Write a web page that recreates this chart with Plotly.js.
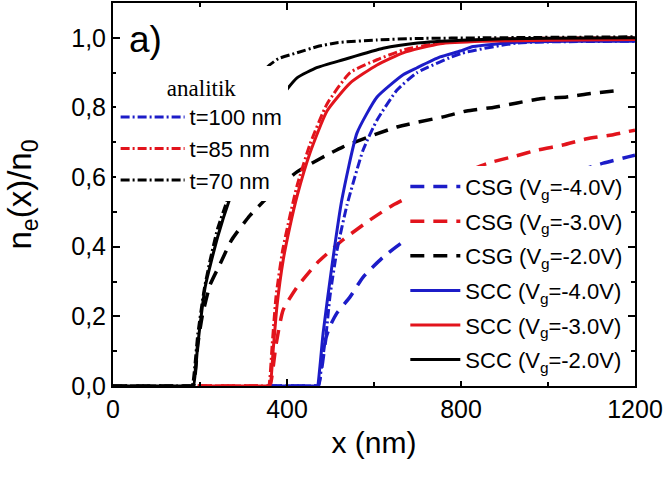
<!DOCTYPE html>
<html>
<head>
<meta charset="utf-8">
<script src="https://cdn.plot.ly/plotly-3.0.1.min.js"></script>
<style>html,body{margin:0;padding:0;background:#fff;}#chart{width:668px;height:477px;}</style>
</head>
<body>
<div id="chart"></div>
<script>
// ---- data ----
const xTicks = [0, 400, 800, 1200];
const yTicks = [0, 0.2, 0.4, 0.6, 0.8, 1.0];

// CSG (dashed)
const csg4X = [356, 468, 472, 482, 490, 500, 515, 545, 575, 621, 667, 750, 850, 950, 1050, 1127, 1184, 1200];
const csg4Y = [0, 0, 0, 0.07, 0.14, 0.175, 0.21, 0.256, 0.313, 0.37, 0.414, 0.47, 0.53, 0.575, 0.61, 0.64, 0.658, 0.663];
const csg3X = [195, 357, 361, 375, 391, 423, 469, 529, 591, 644, 750, 862, 924, 977, 1034, 1089, 1147, 1200];
const csg3Y = [0, 0, 0, 0.12, 0.218, 0.284, 0.353, 0.42, 0.477, 0.52, 0.585, 0.64, 0.66, 0.678, 0.692, 0.71, 0.721, 0.735];
const csg2X = [0, 181, 185, 195, 205, 223, 246, 273, 315, 354, 423, 529, 653, 759, 813, 874, 929, 982, 1043, 1097, 1170];
const csg2Y = [0, 0, 0, 0.12, 0.2, 0.29, 0.35, 0.42, 0.49, 0.54, 0.615, 0.687, 0.744, 0.773, 0.79, 0.80, 0.813, 0.825, 0.83, 0.84, 0.85];

// SCC (solid)
const scc4X = [356, 466, 470, 476, 483, 503, 526, 561, 607, 667, 699, 752, 798, 828, 929, 1050, 1200];
const scc4Y = [0, 0, 0, 0.06, 0.152, 0.342, 0.534, 0.727, 0.83, 0.894, 0.914, 0.945, 0.962, 0.975, 0.987, 0.99, 0.99];
const scc3X = [195, 357, 361, 368, 377, 391, 407, 423, 453, 492, 545, 607, 667, 752, 850, 1000, 1200];
const scc3Y = [0, 0, 0, 0.1, 0.23, 0.36, 0.46, 0.545, 0.67, 0.79, 0.87, 0.922, 0.957, 0.983, 0.99, 0.993, 0.995];
const scc2X = [0, 181, 185, 195, 212, 241, 269, 300, 340, 380, 423, 470, 529, 621, 700, 800, 900, 1000, 1200];
const scc2Y = [0, 0, 0, 0.12, 0.285, 0.43, 0.54, 0.64, 0.74, 0.82, 0.885, 0.915, 0.937, 0.97, 0.985, 0.993, 0.997, 0.999, 1.0];

// analytic (dash-dot)
const t100X = [356, 468, 472, 482, 490, 499, 515, 538, 575, 607, 653, 699, 800, 929, 1200];
const t100Y = [0, 0, 0, 0.08, 0.15, 0.26, 0.39, 0.52, 0.678, 0.764, 0.85, 0.9, 0.955, 0.985, 0.99];
const t85X = [195, 354, 358, 366, 375, 390, 407, 423, 453, 492, 545, 607, 667, 750, 900, 1200];
const t85Y = [0, 0, 0, 0.12, 0.26, 0.39, 0.49, 0.575, 0.695, 0.81, 0.9, 0.937, 0.965, 0.985, 0.997, 1.0];
const t70X = [0, 178, 182, 195, 210, 223, 240, 264, 290, 315, 335, 354, 380, 423, 470, 515, 607, 700, 850, 1200];
const t70Y = [0, 0, 0, 0.15, 0.28, 0.36, 0.45, 0.54, 0.68, 0.8, 0.87, 0.915, 0.94, 0.957, 0.975, 0.986, 0.994, 0.998, 1.0, 1.003];

const BLUE = '#1c1cc8', RED = '#e2141c', BLACK = '#000000';
const DASH = '14px,9px';
const DASHDOT = '9px,3px,2px,3px';

function tr(x, y, name, color, dash, width, legend, group) {
  return {x: x, y: y, name: name, type: 'scatter', mode: 'lines',
    line: {color: color, dash: dash, width: width, shape: 'spline', smoothing: 0.5},
    legend: legend, legendgroup: group, hoverinfo: 'skip'};
}

const data = [
  tr(csg4X, csg4Y, 'CSG (V<sub>g</sub>=-4.0V)', BLUE, DASH, 3.5, 'legend2', 'a'),
  tr(csg3X, csg3Y, 'CSG (V<sub>g</sub>=-3.0V)', RED, DASH, 3.5, 'legend2', 'b'),
  tr(csg2X, csg2Y, 'CSG (V<sub>g</sub>=-2.0V)', BLACK, DASH, 3.5, 'legend2', 'c'),
  tr(t100X, t100Y, 't=100 nm', BLUE, DASHDOT, 3, 'legend', 'g'),
  tr(t85X, t85Y, 't=85 nm', RED, DASHDOT, 3, 'legend', 'h'),
  tr(t70X, t70Y, 't=70 nm', BLACK, DASHDOT, 3, 'legend', 'i'),
  tr(scc4X, scc4Y, 'SCC (V<sub>g</sub>=-4.0V)', BLUE, 'solid', 3, 'legend2', 'd'),
  tr(scc3X, scc3Y, 'SCC (V<sub>g</sub>=-3.0V)', RED, 'solid', 3, 'legend2', 'e'),
  tr(scc2X, scc2Y, 'SCC (V<sub>g</sub>=-2.0V)', BLACK, 'solid', 3, 'legend2', 'f')
];

const FONT = 'Liberation Sans, Arial, sans-serif';
const axisCommon = {
  showline: true, linewidth: 2, linecolor: '#000', mirror: 'ticks',
  ticks: 'inside', ticklen: 7, tickwidth: 2, tickcolor: '#000',
  showgrid: false, zeroline: false,
  tickfont: {family: FONT, size: 25, color: '#000'}
};

const layout = {
  width: 668, height: 477,
  margin: {l: 113, r: 33, t: 3, b: 91},
  paper_bgcolor: '#fff', plot_bgcolor: '#fff',
  separators: ',.',
  font: {family: FONT, color: '#000'},
  xaxis: Object.assign({}, axisCommon, {
    range: [0, 1200], tickmode: 'array', tickvals: xTicks,
    minor: {dtick: 200, tick0: 0, ticks: 'inside', ticklen: 4, tickwidth: 2, tickcolor: '#000'},
    title: {text: 'x (nm)', font: {family: FONT, size: 30, color: '#000'}, standoff: 10}
  }),
  yaxis: Object.assign({}, axisCommon, {
    range: [0, 1.1], tickmode: 'array', tickvals: yTicks, tickformat: '.1f',
    minor: {dtick: 0.1, tick0: 0, ticks: 'inside', ticklen: 4, tickwidth: 2, tickcolor: '#000'},
    title: {text: 'n<sub>e</sub>(x)/n<sub>0</sub>', font: {family: FONT, size: 33, color: '#000'}, standoff: 30}
  }),
  legend: {
    x: 0.005, y: 0.835, xanchor: 'left', yanchor: 'top',
    bgcolor: 'rgba(255,255,255,1)', borderwidth: 0,
    font: {family: FONT, size: 22, color: '#000'},
    title: {text: 'analitik', side: 'top center', font: {family: 'Liberation Serif, Times New Roman, serif', size: 23, color: '#000'}},
    traceorder: 'grouped', tracegroupgap: 0, itemwidth: 64
  },
  legend2: {
    x: 0.56, y: 0.575, xanchor: 'left', yanchor: 'top',
    bgcolor: 'rgba(255,255,255,1)', borderwidth: 0,
    font: {family: FONT, size: 22, color: '#000'},
    traceorder: 'grouped', tracegroupgap: 3, itemwidth: 50
  },
  annotations: [{
    xref: 'paper', yref: 'paper', x: 0.063, y: 0.906, xanchor: 'center', yanchor: 'middle',
    text: 'a)', showarrow: false, font: {family: FONT, size: 37, color: '#000'}
  }]
};

Plotly.newPlot('chart', data, layout, {displayModeBar: false, staticPlot: true});
</script>
</body>
</html>
